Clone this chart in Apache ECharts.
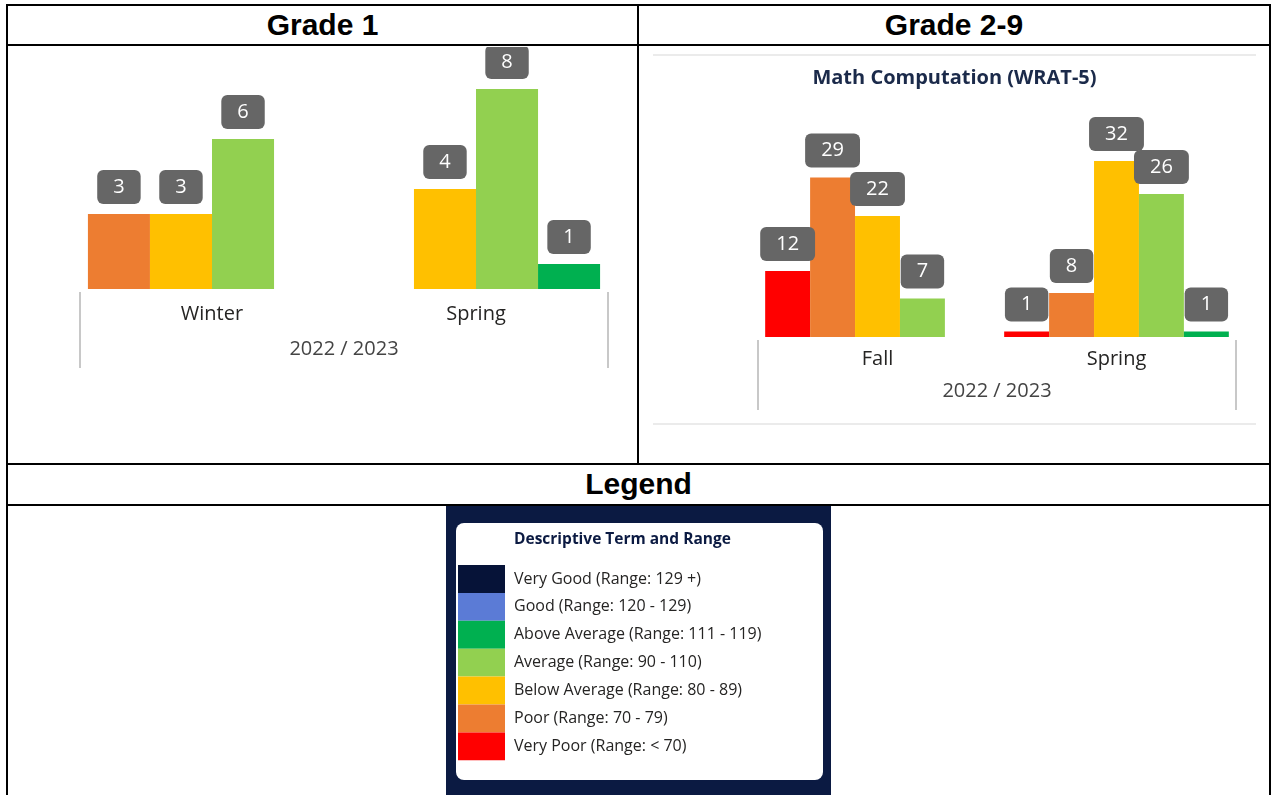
<!DOCTYPE html>
<html>
<head>
<meta charset="utf-8">
<script src="https://cdn.jsdelivr.net/npm/echarts@6/dist/echarts.min.js"></script>
<style>
  body { margin: 0; background: #fff; }
  .ln { position: absolute; background: #000; }
  .hd { position: absolute; font-family: "Liberation Sans", Arial, sans-serif; font-weight: bold;
        font-size: 30px; color: #000; text-align: center; line-height: 40px; }
  .ch { position: absolute; }
</style>
</head>
<body>
<!-- table lines -->
<div class="ln" style="left:6px;top:4px;width:1265px;height:2px"></div>
<div class="ln" style="left:6px;top:44px;width:1265px;height:2px"></div>
<div class="ln" style="left:6px;top:463px;width:1265px;height:2px"></div>
<div class="ln" style="left:6px;top:504px;width:1265px;height:2px"></div>
<div class="ln" style="left:6px;top:4px;width:2px;height:791px"></div>
<div class="ln" style="left:1269px;top:4px;width:2px;height:791px"></div>
<div class="ln" style="left:637px;top:4px;width:2px;height:461px"></div>
<div class="hd" style="left:8px;top:5px;width:629px">Grade 1</div>
<div class="hd" style="left:639px;top:5px;width:630px">Grade 2-9</div>
<div class="hd" style="left:8px;top:464px;width:1261px">Legend</div>

<div id="g1" class="ch" style="left:8px;top:47px;width:629px;height:416px"></div>
<div id="g2" class="ch" style="left:640px;top:47px;width:629px;height:416px"></div>
<div id="lg" class="ch" style="left:446px;top:506px;width:385px;height:289px"></div>

<script>
// ---- data ----
var schoolYear = ['2022 / 2023'];

var g1Terms = ['Winter', 'Spring'];
var g1Poor = [3, null];
var g1Below = [3, 4];
var g1Average = [6, 8];
var g1Above = [null, 1];

var g2Terms = ['Fall', 'Spring'];
var g2VeryPoor = [12, 1];
var g2Poor = [29, 8];
var g2Below = [22, 32];
var g2Average = [7, 26];
var g2Above = [null, 1];

var legendNames = ['Very Good (Range: 129 +)', 'Good (Range: 120 - 129)', 'Above Average (Range: 111 - 119)',
  'Average (Range: 90 - 110)', 'Below Average (Range: 80 - 89)', 'Poor (Range: 70 - 79)', 'Very Poor (Range: < 70)'];
var legendColors = ['#061338', '#5b7bd6', '#00b050', '#92d050', '#ffc000', '#ed7d31', '#ff0000'];

var font = '"Open Sans", "Noto Sans", sans-serif';

function barSeries(name, color, data) {
	return {
		name: name,
		type: 'bar',
		data: data,
		barGap: '0%',
		barCategoryGap: '6%',
		itemStyle: { color: color },
		label: {
			show: true,
			position: 'top',
			distance: 10,
			color: '#fff',
			fontFamily: font,
			fontSize: 20,
			lineHeight: 22,
			backgroundColor: '#666666',
			borderRadius: 6,
			padding: [6, 16]
		},
		animation: false
	};
}

function xAxes(terms, tickLen, labelMargin, yearMargin) {
	return [{
		type: 'category',
		data: terms,
		axisLine: { show: false },
		axisTick: { show: false },
		axisLabel: { fontFamily: font, fontSize: 20, color: '#252423', margin: labelMargin }
	}, {
		type: 'category',
		data: schoolYear,
		position: 'bottom',
		offset: 3,
		axisLine: { show: false },
		axisTick: { show: true, length: tickLen, lineStyle: { color: '#c8c8c8', width: 2 } },
		axisLabel: { fontFamily: font, fontSize: 20, color: '#444', margin: yearMargin }
	}];
}

/****** Grade 1 ******/
var c1 = echarts.init(document.getElementById('g1'));
c1.setOption({
	grid: { left: 72, width: 528, top: 17, height: 225 },
	xAxis: xAxes(g1Terms, 76, 15, 47),
	yAxis: { type: 'value', min: 0, max: 9, show: false },
	series: [
		barSeries('Poor', '#ed7d31', g1Poor),
		barSeries('Below Average', '#ffc000', g1Below),
		barSeries('Average', '#92d050', g1Average),
		barSeries('Above Average', '#00b050', g1Above)
	],
	animation: false
});

/****** Grade 2-9 ******/
var c2 = echarts.init(document.getElementById('g2'));
c2.setOption({
	title: {
		text: 'Math Computation (WRAT-5)',
		left: 'center',
		top: 21,
		padding: 0,
		textStyle: { fontFamily: font, fontSize: 20, fontWeight: 'bold', color: '#1b2a4a' }
	},
	graphic: [
		{ type: 'rect', shape: { x: 13, y: 7, width: 603, height: 2 }, style: { fill: '#ebebeb' } },
		{ type: 'rect', shape: { x: 13, y: 376, width: 603, height: 2 }, style: { fill: '#ebebeb' } }
	],
	grid: { left: 118, width: 478, top: 70, height: 220 },
	xAxis: xAxes(g2Terms, 70, 12, 41),
	yAxis: { type: 'value', min: 0, max: 40, show: false },
	series: [
		barSeries('Very Poor', '#ff0000', g2VeryPoor),
		barSeries('Poor', '#ed7d31', g2Poor),
		barSeries('Below Average', '#ffc000', g2Below),
		barSeries('Average', '#92d050', g2Average),
		barSeries('Above Average', '#00b050', g2Above)
	],
	animation: false
});

/****** Legend ******/
var c3 = echarts.init(document.getElementById('lg'));
c3.setOption({
	backgroundColor: '#0b1a42',
	graphic: [{
		type: 'rect',
		shape: { x: 10, y: 17, width: 367, height: 257, r: 8 },
		style: { fill: '#fff' },
		z: -1
	}],
	title: {
		text: 'Descriptive Term and Range',
		left: 68,
		top: 26,
		padding: 0,
		textStyle: { fontFamily: font, fontSize: 15.5, fontWeight: 'bold', color: '#0b1a42' }
	},
	legend: {
		orient: 'vertical',
		left: 12,
		top: 59,
		padding: 0,
		itemGap: 0,
		itemWidth: 47,
		itemHeight: 27.9,
		icon: 'rect',
		selectedMode: false,
		textStyle: { fontFamily: font, fontSize: 16, color: '#252423', padding: [4, 0, 0, 4] },
		data: legendNames
	},
	xAxis: { type: 'category', show: false, data: [] },
	yAxis: { type: 'value', show: false },
	grid: { left: 0, right: 0, top: 0, bottom: 0 },
	series: legendNames.map(function (n, i) {
		return { name: n, type: 'bar', data: [], itemStyle: { color: legendColors[i] } };
	}),
	animation: false
});
</script>
</body>
</html>
